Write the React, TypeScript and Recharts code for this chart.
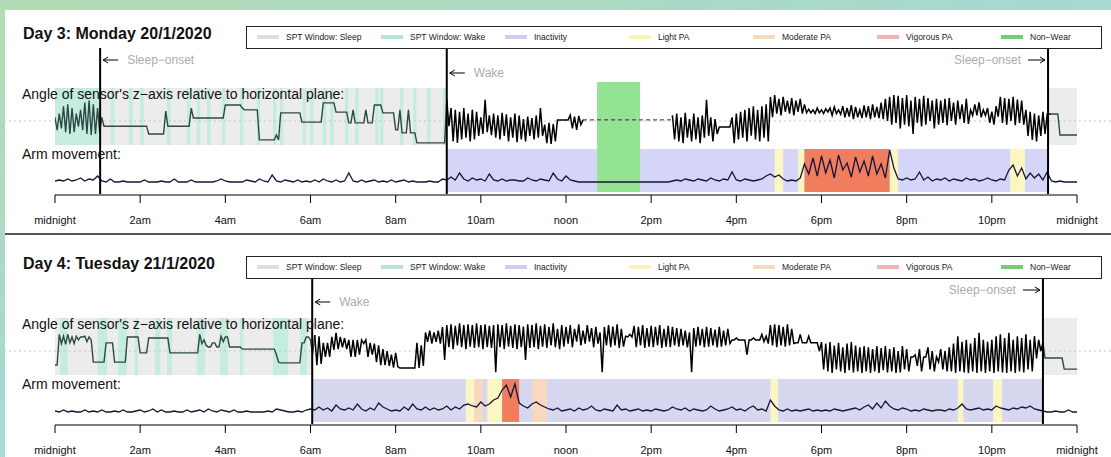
import React from "react";
import {
  ComposedChart,
  Line,
  XAxis,
  YAxis,
  ReferenceArea,
  ReferenceLine,
} from "recharts";

type Span = [number, number];

const TICK_HOURS = [0, 2, 4, 6, 8, 10, 12, 14, 16, 18, 20, 22, 24];
const TICK_LABELS = [
  "midnight", "2am", "4am", "6am", "8am", "10am", "noon",
  "2pm", "4pm", "6pm", "8pm", "10pm", "midnight",
];

const LEGEND_LABELS = [
  "SPT Window: Sleep", "SPT Window: Wake", "Inactivity", "Light PA",
  "Moderate PA", "Vigorous PA", "Non\u2212Wear",
];
const LEGEND_COLORS = ["#dedede", "#b5e6d8", "#cdcdf0", "#faf3b5", "#f6dac0", "#f2b2b2", "#74cf74"];

// angle (deg): highest and lowest value in each 6-minute window from midnight
const DAY3_ANGLE_HI = [
  10, 20, 40, 45, 35, 20, 30, 50, 55, 45,
  35, 10, -14, -14, -14, -14, -14, -14, -14, -14,
  -14, -14, -35, -35, -35, -35, 27, -14, -14, -14,
  -14, -14, 35, 8, 8, 8, 8, 8, 8, 8,
  43, 43, 43, 43, 35, 30, 30, 30, -51, -51,
  -51, -51, -38, 22, 22, 22, 22, 22, -3, -3,
  -3, -3, -3, 49, 49, 49, 24, 24, 24, -5,
  30, -5, -5, 30, -5, 43, 43, 22, 22, 22,
  -24, 30, -32, 30, -32, -59, -59, -59, -59, -59,
  -59, -59, 57, 35, 30, 25, 35, 20, 30, 25,
  10, 57, 15, 20, 15, 22, 18, 10, 20, 15,
  5, 12, 8, 15, 35, -10, -5, -8, 3, 3,
  3, 16, 12, 14, 3, 3, 3, 3, 3, 3,
  3, 3, 3, 3, 3, 3, 3, 3, 3, 3,
  3, 3, 3, 3, 3, 15, 20, 10, 22, 5,
  20, 10, 15, 57, 10, 5, -16, -16, -16, 10,
  20, 25, 30, 35, 40, 30, 40, 45, 65, 70,
  60, 65, 55, 62, 55, 60, 45, 32, 30, 35,
  30, 33, 35, 38, 30, 40, 35, 43, 38, 30,
  42, 40, 45, 38, 50, 60, 65, 70, 68, 62,
  70, 55, 65, 60, 68, 62, 55, 60, 55, 60,
  62, 50, 55, 45, 60, 30, 45, 50, 30, 35,
  25, 40, 65, 62, 60, 65, 58, 55, 30, 25,
  20, 15, 25, 19, 19, 19, -38, -38, -38, -38,
  -38,
];
const DAY3_ANGLE_LO = [
  -25, -20, -30, -35, -30, -15, -25, -35, -38, -35,
  -30, -14, -14, -14, -14, -14, -14, -14, -14, -14,
  -14, -14, -35, -35, -35, -35, -14, -14, -14, -14,
  -14, -14, 8, 8, 8, 8, 8, 8, 8, 8,
  43, 43, 43, 43, 30, 30, 30, 30, -51, -51,
  -51, -51, -51, 22, 22, 22, 22, 22, -3, -3,
  -3, -3, -3, 49, 49, 49, 24, 24, 24, -5,
  -5, -5, -5, -5, -5, 43, 43, 22, 22, 22,
  -24, -32, -32, -32, -32, -59, -59, -59, -59, -59,
  -59, -59, -14, -55, -59, -50, -45, -55, -50, -40,
  -35, -30, -38, -45, -50, -40, -55, -45, -57, -50,
  -55, -40, -50, -45, -40, -60, -62, -55, 3, 3,
  3, -20, -24, -10, 3, 3, 3, 3, 3, 3,
  3, 3, 3, 3, 3, 3, 3, 3, 3, 3,
  3, 3, 3, 3, 3, -50, -55, -60, -45, -55,
  -50, -60, -45, -40, -55, -35, -16, -16, -16, -60,
  -50, -45, -55, -40, -50, -55, -45, -55, 10, 20,
  15, 25, 20, 15, 25, 20, 22, 22, 20, 22,
  20, 24, 15, 20, 18, 10, 12, 5, 10, 8,
  10, 5, 10, 8, 5, 0, -10, -5, -20, -10,
  -15, -35, -5, -15, -10, 0, -20, -10, -5, -11,
  0, -10, 5, -5, -8, 15, 15, 10, 15, -5,
  -10, 12, -5, -10, 0, -11, -5, -10, -40, -51,
  -55, -40, -35, 19, 19, 19, -38, -38, -38, -38,
  -38,
];

// arm movement every 6 minutes
const DAY3_ARM = [
  1, 2, 1, 3, 1, 2, 4, 1, 3, 2,
  6, 1, 0, 3, 0, 0, 1, 0, 0, 0,
  0, 2, 0, 0, 0, 1, 0, 0, 3, 0,
  0, 0, 2, 0, 0, 0, 0, 0, 1, 3,
  1, 0, 0, 0, 0, 2, 1, 0, 3, 1,
  0, 7, 1, 0, 2, 1, 0, 2, 0, 1,
  0, 2, 0, 3, 1, 0, 2, 0, 1, 9,
  1, 0, 2, 0, 1, 2, 0, 1, 0, 2,
  0, 1, 2, 0, 1, 0, 0, 0, 1, 0,
  0, 3, 2, 5, 2, 9, 3, 1, 4, 2,
  3, 1, 8, 2, 1, 3, 1, 2, 2, 1,
  1, 4, 2, 1, 3, 2, 1, 9, 3, 1,
  6, 2, 1, 0, 0, 0, 0, 0, 0, 0,
  0, 0, 0, 0, 0, 0, 0, 0, 0, 0,
  0, 0, 0, 0, 0, 1, 2, 1, 3, 2,
  1, 3, 2, 1, 4, 2, 1, 3, 2, 10,
  2, 1, 3, 2, 1, 2, 3, 6, 8, 5,
  7, 3, 1, 2, 1, 4, 18, 8, 24, 6,
  26, 9, 22, 4, 27, 12, 19, 5, 25, 10,
  21, 6, 26, 8, 18, 4, 32, 14, 3, 2,
  4, 2, 3, 10, 2, 5, 1, 3, 2, 4,
  1, 3, 2, 1, 4, 2, 3, 1, 2, 4,
  2, 1, 3, 2, 12, 17, 6, 14, 3, 9,
  4, 8, 2, 10, 1, 0, 1, 0, 0, 0,
  0,
];

const DAY4_ANGLE_HI = [
  -38, 45, 40, 45, 38, 40, 38, 40, 38, -30,
  -30, -30, 22, 22, -30, -30, -30, 38, 38, 38,
  -5, -5, 35, 35, 35, 35, 35, -5, -5, -5,
  -5, -5, -5, -5, 45, 30, 11, 22, 11, 40,
  38, 11, 11, 11, 5, 5, 5, 5, 5, 5,
  5, 5, -10, -32, -32, -32, -32, -32, 22, 38,
  30, 43, 40, 22, 22, 38, 49, 38, 35, 30,
  30, 30, 30, 30, 22, 20, 15, 5, 0, -10,
  -5, -46, -46, -46, -46, 22, 15, 50, 55, 50,
  55, 65, 70, 72, 68, 75, 70, 72, 70, 75,
  70, 72, 68, 70, 72, 70, 75, 68, 72, 70,
  66, 72, 70, 75, 68, 72, 65, 75, 60, 70,
  65, 70, 60, 72, 55, 70, 62, 65, 50, 65,
  70, 66, 72, 60, 40, 45, 68, 65, 70, 62,
  68, 65, 70, 60, 68, 65, 62, 60, 55, 50,
  62, 65, 60, 65, 62, 58, 65, 55, 60, 30,
  35, 30, 30, 30, 35, 30, 45, 40, 70, 72,
  70, 65, 72, 60, 22, 45, 22, 40, 22, 22,
  24, 20, 24, 15, 22, 10, 20, 24, 15, 10,
  13, 10, 5, 13, 8, 13, 5, 10, 0, 13,
  5, -16, -10, 5, -16, 10, 0, -16, 5, 0,
  10, 20, 40, 25, 30, 20, 35, 49, 30, 25,
  30, 40, 45, 35, 49, 30, 40, 35, 45, 30,
  40, 30, 22, -19, -19, -19, -19, -49, -49, -49,
  -49,
];
const DAY4_ANGLE_LO = [
  -38, 20, 18, 22, 20, 30, 38, 25, 30, -30,
  -30, -30, 22, 22, -30, -30, -30, 38, 38, 38,
  -5, -5, 35, 35, 35, 35, 35, -5, -5, -5,
  -5, -5, -5, -5, 20, 15, 11, 22, 11, 25,
  38, 11, 11, 11, 5, 5, 5, 5, 5, 5,
  5, 5, -30, -32, -32, -32, -32, -32, 22, 38,
  -10, -38, -35, -16, -16, 3, 5, 10, 5, -16,
  -16, -10, 20, -16, -10, -30, -38, -38, -40, -45,
  -42, -46, -46, -46, -46, -46, -40, 25, 20, 25,
  20, -24, 10, 5, 15, 10, 5, 12, 8, 10,
  5, 10, 8, -57, 10, 5, 12, 8, 5, 10,
  -24, 8, 10, 5, 12, 8, 15, 10, 5, 12,
  20, 10, 25, 15, 20, 25, 10, 20, -57, 15,
  10, 15, 8, 12, 38, 38, 10, 15, 8, 12,
  10, 15, 8, 12, 10, 15, 12, 15, 10, -57,
  12, 15, 10, 12, 15, 10, 12, 15, 20, 30,
  30, 30, -10, 30, 30, 30, 25, 20, 15, 10,
  15, 12, 15, 20, 22, 22, 22, 22, 22, 0,
  -50, -55, -59, -50, -55, -59, -52, -58, -55, -59,
  -55, -59, -55, -59, -52, -58, -55, -59, -58, -50,
  -55, -16, -40, -55, -16, -50, -55, -30, -50, -55,
  -55, -59, -55, -58, -59, -55, -59, -55, -59, -55,
  -59, -55, -58, -59, -55, -59, -55, -58, -50, -55,
  -20, 0, -19, -19, -19, -19, -19, -49, -49, -49,
  -49,
];

const DAY4_ARM = [
  1, 0, 2, 0, 1, 0, 0, 2, 0, 1,
  0, 2, 0, 0, 1, 0, 2, 0, 0, 1,
  2, 0, 1, 3, 0, 2, 0, 0, 1, 0,
  0, 2, 0, 1, 2, 0, 3, 1, 0, 2,
  1, 0, 2, 0, 0, 1, 0, 0, 0, 0,
  1, 0, 3, 2, 1, 0, 0, 1, 0, 2,
  3, 2, 5, 2, 4, 1, 7, 3, 2, 4,
  2, 8, 3, 1, 4, 2, 9, 5, 3, 1,
  2, 1, 5, 2, 8, 3, 2, 5, 2, 4,
  2, 3, 6, 2, 5, 3, 7, 8, 6, 5,
  10, 6, 8, 12, 14, 22, 27, 15, 28, 9,
  6, 4, 8, 10, 7, 5, 3, 2, 4, 1,
  2, 3, 1, 4, 2, 3, 6, 2, 1, 3,
  2, 1, 7, 2, 3, 1, 2, 3, 1, 2,
  1, 3, 2, 1, 2, 5, 3, 2, 4, 1,
  3, 2, 1, 2, 6, 3, 1, 2, 3, 5,
  2, 3, 1, 4, 6, 2, 3, 1, 12, 6,
  2, 1, 3, 1, 2, 1, 2, 3, 1, 2,
  1, 2, 1, 3, 2, 1, 2, 3, 4, 2,
  5, 7, 3, 9, 4, 11, 6, 3, 2, 4,
  3, 1, 2, 1, 3, 2, 1, 2, 2, 1,
  3, 2, 4, 8, 3, 2, 3, 4, 2, 3,
  2, 6, 4, 3, 2, 4, 3, 5, 4, 6,
  3, 2, 1, 0, 0, 1, 0, 0, 2, 0,
  0,
];

// time windows in hours
const DAY3_SLEEP: Span[] = [[1.06, 9.2], [23.32, 24]];
const DAY3_WAKE: Span[] = [
  [0, 1.06], [1.31, 1.39], [1.74, 1.82], [2.0, 2.08], [2.63, 2.71], [3.1, 3.18],
  [3.33, 3.41], [3.57, 3.65], [3.92, 4.0], [4.34, 4.42], [4.74, 4.82], [5.12, 5.2],
  [5.28, 5.36], [5.82, 5.9], [5.99, 6.07], [6.29, 6.37], [6.46, 6.54], [6.81, 6.89],
  [7.05, 7.13], [7.52, 7.6], [7.63, 7.71], [8.1, 8.18], [8.41, 8.49], [8.74, 8.82],
  [9.11, 9.19],
];
const DAY3_INACTIVE: Span[] = [[9.2, 23.32]];
const DAY3_LIGHT: Span[] = [[16.9, 17.1], [17.45, 17.6], [19.6, 19.8], [22.43, 22.78]];
const DAY3_MODERATE: Span[] = [];
const DAY3_VIGOROUS: Span[] = [[17.6, 19.6]];
const DAY3_NONWEAR: Span[] = [[12.73, 13.74]];
const DAY3_NONWEAR_TRACE: Span[] = [[12.4, 14.45]];

const DAY4_SLEEP: Span[] = [[0, 6.04], [23.2, 24]];
const DAY4_WAKE: Span[] = [
  [0.12, 0.3], [1.0, 1.22], [1.48, 1.69], [1.88, 1.95], [2.35, 2.47], [2.63, 2.75],
  [3.33, 3.52], [3.87, 4.06], [4.34, 4.42], [5.12, 5.47], [5.75, 5.92],
];
const DAY4_INACTIVE: Span[] = [[6.04, 23.2]];
const DAY4_LIGHT: Span[] = [[9.65, 9.85], [10.15, 10.5], [16.8, 16.98], [21.2, 21.33], [22.03, 22.24]];
const DAY4_MODERATE: Span[] = [[9.85, 10.05], [11.2, 11.55]];
const DAY4_VIGOROUS: Span[] = [[10.5, 10.9]];
const DAY4_NONWEAR: Span[] = [];
const DAY4_NONWEAR_TRACE: Span[] = [];

type Marker = { h: number; text: string; side: "left" | "right"; dy: number };
const DAY3_MARKERS: Marker[] = [
  { h: 1.06, text: "Sleep\u2212onset", side: "right", dy: 12 },
  { h: 9.2, text: "Wake", side: "right", dy: 25 },
  { h: 23.32, text: "Sleep\u2212onset", side: "left", dy: 12 },
];
const DAY4_MARKERS: Marker[] = [
  { h: 6.04, text: "Wake", side: "right", dy: 24 },
  { h: 23.2, text: "Sleep\u2212onset", side: "left", dy: 12 },
];

// layout: angle 0 sits at y=121 of a panel, 2.7 deg per pixel; arm 0 at y=182, 1 unit per pixel
const ANGLE_DOMAIN = [-199.8, 218.7];
const ARM_DOMAIN = [-13, 142];
const FONT = "'Liberation Sans', Arial, sans-serif";

const inSpan = (h: number, spans: Span[]) =>
  spans.some(([a, b]) => h >= a && (h < b || (b === 24 && h <= b)));

// each 6-minute window gives its high then its low, so the trace is drawn as dense strokes
function buildRows(hi: number[], lo: number[], arm: number[], tinted: Span[], noWear: Span[]) {
  const raw: { h: number; v: number; c: string; arm: number | null }[] = [];
  hi.forEach((v, i) => {
    const h = i / 10;
    const c = inSpan(h, noWear) ? "n" : inSpan(h, tinted) ? "t" : "w";
    raw.push({ h, v, c, arm: arm[i] });
    if (i < hi.length - 1) raw.push({ h: h + 0.05, v: lo[i], c, arm: null });
  });
  return raw.map((r, k) => {
    const pick = (c: string) => (r.c === c || (k > 0 && raw[k - 1].c === c) ? r.v : null);
    return { h: r.h, t: pick("t"), w: pick("w"), n: pick("n"), arm: r.arm };
  });
}

function MarkerTag(props: any) {
  const { viewBox, text, side, dy } = props;
  const x = viewBox.x;
  const y = viewBox.y + dy;
  if (side === "right") {
    return (
      <g>
        <line x1={x + 3} y1={y} x2={x + 18} y2={y} stroke="#000" strokeWidth={1} />
        <path d={`M${x + 8},${y - 3} L${x + 3},${y} L${x + 8},${y + 3}`} fill="none" stroke="#000" strokeWidth={1} />
        <text x={x + 27} y={y + 4} fill="#acacac" fontSize={12} fontFamily={FONT}>{text}</text>
      </g>
    );
  }
  return (
    <g>
      <line x1={x - 20} y1={y} x2={x - 3} y2={y} stroke="#000" strokeWidth={1} />
      <path d={`M${x - 8},${y - 3} L${x - 3},${y} L${x - 8},${y + 3}`} fill="none" stroke="#000" strokeWidth={1} />
      <text x={x - 27} y={y + 4} fill="#acacac" fontSize={12} fontFamily={FONT} textAnchor="end">{text}</text>
    </g>
  );
}

function Legend() {
  return (
    <div
      style={{
        position: "absolute", left: 246, top: 26, width: 856, height: 23,
        border: "1.5px solid #222", boxSizing: "border-box", background: "#fff",
      }}
    >
      {LEGEND_LABELS.map((label, i) => (
        <div key={label} style={{ position: "absolute", left: 10 + i * 124, top: 0, height: 20, display: "flex", alignItems: "center" }}>
          <div style={{ width: 22, height: 4, background: LEGEND_COLORS[i] }} />
          <span style={{ marginLeft: 7, fontSize: 8.5, color: "#222", fontFamily: FONT, whiteSpace: "nowrap" }}>{label}</span>
        </div>
      ))}
    </div>
  );
}

interface DayProps {
  top: number;
  title: string;
  hi: number[];
  lo: number[];
  arm: number[];
  sleep: Span[];
  wake: Span[];
  inactive: Span[];
  light: Span[];
  moderate: Span[];
  vigorous: Span[];
  nonWear: Span[];
  nonWearTrace: Span[];
  markers: Marker[];
  inactiveColor: string;
}

function DayPanel(p: DayProps) {
  const rows = buildRows(p.hi, p.lo, p.arm, p.sleep.concat(p.wake.slice(0, 1)), p.nonWearTrace);
  const area = (spans: Span[], key: string, fill: string, axis: string, y1: number, y2: number) =>
    spans.map(([a, b], i) => (
      <ReferenceArea key={key + i} yAxisId={axis} x1={a} x2={b} y1={y1} y2={y2} fill={fill} fillOpacity={1} stroke="none" />
    ));
  return (
    <div style={{ position: "absolute", left: 0, top: p.top, width: 1111, height: 230 }}>
      <ComposedChart
        width={1111}
        height={230}
        data={rows}
        margin={{ top: 40, right: 34, bottom: 5, left: 55 }}
        style={{ fontFamily: FONT }}
      >
        <XAxis
          type="number"
          dataKey="h"
          domain={[0, 24]}
          ticks={TICK_HOURS}
          interval={0}
          allowDataOverflow
          tickFormatter={(v: number) => TICK_LABELS[TICK_HOURS.indexOf(v)]}
          tick={{ fill: "#111", fontSize: 11 }}
          tickLine={{ stroke: "#000" }}
          axisLine={{ stroke: "#000" }}
          tickSize={8}
          tickMargin={13}
          height={30}
        />
        <YAxis yAxisId="ang" hide type="number" domain={ANGLE_DOMAIN} allowDataOverflow />
        <YAxis yAxisId="arm" hide type="number" domain={ARM_DOMAIN} allowDataOverflow />
        <ReferenceLine
          yAxisId="ang"
          segment={[{ x: -1.2, y: 0 }, { x: 24.8, y: 0 }]}
          stroke="#c4c4c4"
          strokeDasharray="2 3"
          ifOverflow="visible"
        />
        {area(p.sleep, "sl", "#ececec", "ang", -65, 89)}
        {area(p.wake, "wk", "#c4ecdf", "ang", -65, 89)}
        {area(p.inactive, "in", p.inactiveColor, "arm", -10, 33)}
        {area(p.light, "li", "#fbf6c2", "arm", -10, 33)}
        {area(p.moderate, "mo", "#f9d9bd", "arm", -10, 33)}
        {area(p.vigorous, "vi", "#f07d5e", "arm", -10, 33)}
        {area(p.nonWear, "nw", "#93e393", "arm", -10, 100)}
        <Line yAxisId="arm" type="linear" dataKey="arm" connectNulls stroke="#16163a" strokeWidth={1.3} dot={false} activeDot={false} isAnimationActive={false} />
        <Line yAxisId="ang" type="linear" dataKey="t" stroke="#2c4a43" strokeWidth={1.4} dot={false} activeDot={false} isAnimationActive={false} />
        <Line yAxisId="ang" type="linear" dataKey="w" stroke="#000" strokeWidth={1.5} dot={false} activeDot={false} isAnimationActive={false} />
        <Line yAxisId="ang" type="linear" dataKey="n" stroke="#222" strokeWidth={1} strokeDasharray="4 3" dot={false} activeDot={false} isAnimationActive={false} />
        {p.markers.map((m) => (
          <ReferenceLine
            key={"m" + m.h}
            yAxisId="arm"
            segment={[{ x: m.h, y: 134 }, { x: m.h, y: -12 }]}
            stroke="#000"
            strokeWidth={2}
            label={<MarkerTag text={m.text} side={m.side} dy={m.dy} />}
          />
        ))}
      </ComposedChart>
      <div style={{ position: "absolute", left: 23, top: 25, fontFamily: FONT, fontWeight: "bold", fontSize: 16, color: "#111", whiteSpace: "nowrap" }}>
        {p.title}
      </div>
      <Legend />
      <div style={{ position: "absolute", left: 22, top: 86, fontFamily: FONT, fontSize: 14, color: "#111", whiteSpace: "nowrap" }}>
        Angle of sensor's z{"\u2212"}axis relative to horizontal plane:
      </div>
      <div style={{ position: "absolute", left: 22, top: 146, fontFamily: FONT, fontSize: 14, color: "#111", whiteSpace: "nowrap" }}>
        Arm movement:
      </div>
    </div>
  );
}

export default function App() {
  return (
    <div
      style={{
        position: "absolute", left: 0, top: 0, width: 1111, height: 457, overflow: "hidden",
        background: "linear-gradient(160deg, #b3dbb4 0%, #a8d8d0 45%, #b8e0ea 100%)",
      }}
    >
      <div style={{ position: "absolute", left: 5, top: 10, right: 0, bottom: 0, background: "#fff" }} />
      <DayPanel
        top={0}
        title="Day 3: Monday 20/1/2020"
        hi={DAY3_ANGLE_HI}
        lo={DAY3_ANGLE_LO}
        arm={DAY3_ARM}
        sleep={DAY3_SLEEP}
        wake={DAY3_WAKE}
        inactive={DAY3_INACTIVE}
        light={DAY3_LIGHT}
        moderate={DAY3_MODERATE}
        vigorous={DAY3_VIGOROUS}
        nonWear={DAY3_NONWEAR}
        nonWearTrace={DAY3_NONWEAR_TRACE}
        markers={DAY3_MARKERS}
        inactiveColor="#d5d5f7"
      />
      <div style={{ position: "absolute", left: 5, top: 233, width: 1106, height: 2, background: "#555" }} />
      <DayPanel
        top={230}
        title="Day 4: Tuesday 21/1/2020"
        hi={DAY4_ANGLE_HI}
        lo={DAY4_ANGLE_LO}
        arm={DAY4_ARM}
        sleep={DAY4_SLEEP}
        wake={DAY4_WAKE}
        inactive={DAY4_INACTIVE}
        light={DAY4_LIGHT}
        moderate={DAY4_MODERATE}
        vigorous={DAY4_VIGOROUS}
        nonWear={DAY4_NONWEAR}
        nonWearTrace={DAY4_NONWEAR_TRACE}
        markers={DAY4_MARKERS}
        inactiveColor="#d6d8ef"
      />
    </div>
  );
}
